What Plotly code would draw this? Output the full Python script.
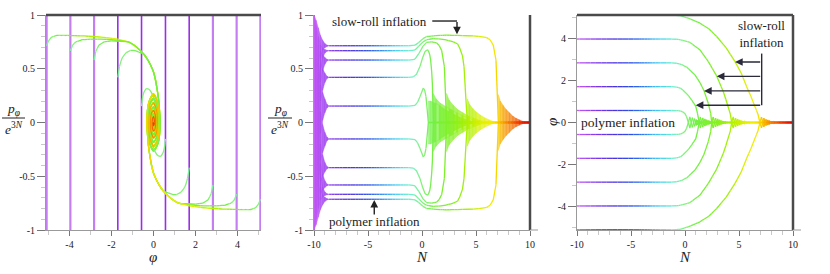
import math
import plotly.graph_objects as go

# ======================= DATA =======================
# five trajectory pairs; the mirrored partner of each is drawn by sign flip
PHI0 = [0.57, 1.70, 2.83, 3.96, 5.09]          # |initial field value|
P0 = [0.153, 0.42, 0.581, 0.668, 0.714]        # polymer plateau of p/e^{3N}
P_POLY_EDGE = [-1.0, 1.0]                       # range swept during polymer bounce
N_END = 10.0

# ---- panel 2 : polymer oscillation bands (family with p>0)
POLY_N = [-10.0, -9.8, -9.6, -9.4, -9.2, -9.0, -8.8, -8.6]
POLY_UP = [
    [1.0, 0.80, 0.55, 0.35, 0.28, 0.22, 0.17, 0.153],
    [1.0, 0.85, 0.72, 0.55, 0.50, 0.46, 0.43, 0.42],
    [1.0, 0.88, 0.78, 0.66, 0.63, 0.605, 0.588, 0.581],
    [1.0, 0.90, 0.80, 0.72, 0.69, 0.68, 0.672, 0.668],
    [1.0, 0.95, 0.88, 0.81, 0.765, 0.735, 0.72, 0.714],
]
POLY_LO = [
    [-1.0, -0.85, -0.60, -0.10, 0.02, 0.09, 0.135, 0.153],
    [-1.0, -0.80, -0.40, 0.20, 0.30, 0.37, 0.41, 0.42],
    [-1.0, -0.75, -0.20, 0.38, 0.48, 0.54, 0.572, 0.581],
    [-1.0, -0.70, 0.00, 0.50, 0.60, 0.645, 0.662, 0.668],
    [-1.0, -0.60, 0.20, 0.60, 0.675, 0.695, 0.708, 0.714],
]
# ---- panel 2 : plateau, slow roll, end of inflation (family with p>0)
P2_N = [
    [-8.6, -1.0, -0.65, -0.4, -0.19, 0.0, 0.12, 0.25, 0.37, 0.49, 0.59, 10.0],
    [-8.6, -1.0, -0.8, -0.5, -0.19, 0.05, 0.28, 0.45, 0.59, 0.72, 0.8, 0.9, 0.96, 1.05, 10.0],
    [-8.6, -1.0, -0.65, -0.3, 0.1, 0.43, 0.9, 1.36, 1.6, 1.82, 2.07, 2.22, 2.28, 10.0],
    [-8.6, -1.0, -0.65, -0.3, 0.1, 0.43, 1.05, 2.0, 2.9, 3.3, 3.5, 3.75, 3.89, 4.07, 4.2, 10.0],
    [-8.6, -1.0, -0.65, -0.3, 0.1, 0.43, 1.5, 2.3, 3.5, 4.75, 5.5, 5.99, 6.3, 6.6, 6.85, 6.97, 7.07, 10.0],
]
P2_P = [
    [0.153, 0.153, 0.16, 0.19, 0.24, 0.295, 0.32, 0.30, 0.24, 0.085, 0.0, 0.0],
    [0.42, 0.42, 0.425, 0.45, 0.52, 0.60, 0.66, 0.675, 0.67, 0.63, 0.58, 0.47, 0.36, 0.0, 0.0],
    [0.581, 0.581, 0.59, 0.64, 0.71, 0.745, 0.75, 0.74, 0.715, 0.67, 0.52, 0.21, 0.0, 0.0],
    [0.668, 0.668, 0.675, 0.71, 0.75, 0.77, 0.78, 0.775, 0.75, 0.73, 0.69, 0.62, 0.52, 0.21, 0.0, 0.0],
    [0.714, 0.714, 0.72, 0.745, 0.78, 0.80, 0.81, 0.812, 0.81, 0.805, 0.80, 0.79, 0.77, 0.72, 0.58, 0.21, 0.0, 0.0],
]
# ---- panel 2 : envelope of the damped oscillation after inflation
ENV2_N = [
    [0.59, 0.8, 1.2, 1.6, 2.0, 2.5, 3.0, 3.5, 4.0, 4.5, 5.0],
    [1.05, 1.3, 1.7, 2.2, 2.7, 3.2, 3.7, 4.2, 4.7, 5.2, 5.6],
    [2.28, 2.5, 2.9, 3.3, 3.8, 4.3, 4.8, 5.3, 5.8, 6.3],
    [4.2, 4.4, 4.7, 5.0, 5.4, 5.8, 6.2, 6.6, 7.0],
    [7.07, 7.25, 7.5, 7.8, 8.1, 8.4, 8.7, 9.0, 9.3, 9.6, 10.0],
]
ENV2_A = [
    [0.2, 0.2, 0.18, 0.16, 0.13, 0.1, 0.075, 0.05, 0.03, 0.015, 0.0],
    [0.27, 0.22, 0.18, 0.15, 0.12, 0.09, 0.065, 0.045, 0.028, 0.012, 0.0],
    [0.27, 0.21, 0.16, 0.12, 0.09, 0.06, 0.04, 0.022, 0.01, 0.0],
    [0.22, 0.17, 0.13, 0.1, 0.07, 0.045, 0.025, 0.01, 0.0],
    [0.26, 0.2, 0.16, 0.12, 0.09, 0.06, 0.04, 0.025, 0.012, 0.005, 0.0],
]

# ---- panel 3 : field vs N (family with phi>0)
P3_N = [
    [-10.0, -1.0, -0.6, -0.22, 0.0, 0.15, 0.25, 0.31],
    [-10.0, -1.0, -0.77, -0.4, 0.0, 0.35, 0.62, 0.99, 1.15, 1.28],
    [-10.0, -1.0, -0.77, -0.3, 0.15, 0.93, 1.4, 1.76, 2.16, 2.38, 2.47],
    [-10.0, -1.0, -0.62, 0.0, 0.46, 1.39, 2.16, 2.93, 3.55, 4.01, 4.2, 4.32],
    [-10.0, -1.0, -0.46, 0.3, 1.39, 2.2, 2.93, 3.8, 4.63, 5.2, 5.71, 6.1, 6.48, 6.75, 6.94],
]
P3_PHI = [
    [0.57, 0.57, 0.56, 0.51, 0.42, 0.27, 0.14, 0.0],
    [1.70, 1.70, 1.68, 1.62, 1.46, 1.25, 1.06, 0.78, 0.45, 0.0],
    [2.83, 2.83, 2.81, 2.75, 2.63, 2.25, 1.88, 1.51, 0.9, 0.43, 0.0],
    [3.96, 3.96, 3.94, 3.88, 3.80, 3.44, 2.89, 2.21, 1.46, 0.75, 0.4, 0.0],
    [5.09, 5.09, 5.07, 4.95, 4.71, 4.45, 4.08, 3.55, 2.89, 2.35, 1.70, 1.25, 0.75, 0.4, 0.0],
]
OSC3_N = [
    [0.45, 0.68, 0.88, 1.04, 1.18, 1.3, 1.41, 1.51, 1.61, 1.71, 1.82, 1.95, 2.1, 2.3, 10.0],
    [1.42, 1.64, 1.84, 2.0, 2.14, 2.26, 2.37, 2.47, 2.57, 2.67, 2.78, 2.9, 3.05, 3.25, 10.0],
    [2.61, 2.83, 3.03, 3.19, 3.33, 3.45, 3.56, 3.66, 3.76, 3.86, 3.97, 4.09, 4.24, 4.45, 10.0],
    [4.46, 4.68, 4.88, 5.04, 5.18, 5.3, 5.41, 5.51, 5.61, 5.71, 5.82, 5.94, 6.09, 6.3, 10.0],
    [7.08, 7.3, 7.5, 7.66, 7.8, 7.92, 8.03, 8.13, 8.23, 8.33, 8.44, 8.56, 8.71, 8.92, 10.0],
]
OSC3_PHI = [
    [-0.27, 0.23, -0.18, 0.14, -0.11, 0.085, -0.065, 0.05, -0.038, 0.028, -0.02, 0.013, -0.007, 0.0, 0.0],
    [-0.26, 0.22, -0.17, 0.13, -0.1, 0.08, -0.06, 0.045, -0.034, 0.025, -0.018, 0.012, -0.006, 0.0, 0.0],
    [-0.26, 0.21, -0.17, 0.13, -0.1, 0.075, -0.058, 0.044, -0.033, 0.024, -0.017, 0.011, -0.006, 0.0, 0.0],
    [-0.26, 0.21, -0.16, 0.125, -0.095, 0.072, -0.055, 0.042, -0.031, 0.023, -0.016, 0.01, -0.005, 0.0, 0.0],
    [-0.26, 0.21, -0.16, 0.125, -0.095, 0.072, -0.055, 0.042, -0.031, 0.023, -0.016, 0.01, -0.005, 0.0, 0.0],
]

# ---- panel 1 : phase space (family with phi<0, p>0)
P1_OWN_PHI = [
    [-0.57, -0.53, -0.46, -0.35, -0.22, -0.10, 0.03, 0.14, 0.22],
    [-1.70, -1.62, -1.49, -1.30, -1.10, -0.93, -0.70],
    [-2.83, -2.75, -2.60, -2.35, -2.00, -1.60],
    [-3.96, -3.85, -3.70, -3.40, -3.00, -2.50, -2.00, -1.50],
    [-5.09, -5.00, -4.85],
]
P1_OWN_P = [
    [0.153, 0.22, 0.28, 0.315, 0.31, 0.28, 0.22, 0.12, 0.0],
    [0.42, 0.52, 0.60, 0.65, 0.67, 0.67, 0.655],
    [0.581, 0.66, 0.72, 0.75, 0.76, 0.755],
    [0.668, 0.72, 0.75, 0.77, 0.775, 0.775, 0.77, 0.76],
    [0.714, 0.76, 0.795],
]
P1_OWN_N = [
    [-0.6, -0.25, 0.0, 0.12, 0.22, 0.3, 0.38, 0.46, 0.55],
    [-0.6, -0.25, 0.0, 0.2, 0.38, 0.5, 0.62],
    [-0.6, -0.1, 0.3, 0.7, 1.1, 1.35],
    [-0.6, -0.1, 0.4, 1.2, 1.9, 2.5, 3.0, 3.35],
    [-0.6, -0.2, 0.3],
]
ATTR_PHI = [-4.6, -4.1, -3.3, -2.5, -1.7, -1.2, -0.93, -0.65, -0.46, -0.28, -0.14, 0.0, 0.09, 0.18, 0.25, 0.29]
ATTR_P = [0.81, 0.81, 0.805, 0.795, 0.775, 0.75, 0.72, 0.675, 0.635, 0.585, 0.535, 0.47, 0.40, 0.30, 0.20, 0.10]
ATTR_N = [1.0, 2.9, 4.0, 5.0, 5.7, 6.05, 6.25, 6.45, 6.58, 6.68, 6.76, 6.83, 6.88, 6.93, 6.97, 7.0]
SPIRAL_PHI = [0.32, 0.22, 0.0, -0.205, -0.28, -0.187, 0.0, 0.166, 0.22, 0.148, 0.0, -0.134, -0.18, -0.12,
              0.0, 0.106, 0.14, 0.092, 0.0, -0.078, -0.10, -0.064, 0.0, 0.05, 0.065, 0.04, 0.0, -0.03,
              -0.04, -0.022, 0.0, 0.012, 0.0]
SPIRAL_P = [0.0, -0.19, -0.265, -0.18, 0.0, 0.166, 0.225, 0.152, 0.0, -0.138, -0.185, -0.124, 0.0, 0.11,
            0.145, 0.096, 0.0, -0.088, -0.115, -0.075, 0.0, 0.064, 0.082, 0.052, 0.0, -0.043, -0.055,
            -0.035, 0.0, 0.024, 0.03, 0.015, 0.0]
SPIRAL_N = [7.03, 7.09, 7.15, 7.21, 7.27, 7.33, 7.4, 7.46, 7.52, 7.58, 7.65, 7.71, 7.78, 7.84, 7.9, 7.96,
            8.02, 8.08, 8.15, 8.21, 8.28, 8.34, 8.4, 8.47, 8.55, 8.62, 8.7, 8.77, 8.85, 8.92, 9.0, 9.3, 10.0]
P1_JOIN_ATTR = [None, 8, 5, 5, 0]
P1_JOIN_SPIRAL = [1, 0, 0, 0, 0]
P1_N_SHIFT = [6.45, 5.8, 4.55, 2.65, 0.0]

# tick labels
P_TICKS = [-1, -0.5, 0, 0.5, 1]
P_TICKTEXT = ["-1", "-0.5", "0", "0.5", "1"]
PHI_TICKS = [-4, -2, 0, 2, 4]
PHI_TICKTEXT = ["-4", "-2", "0", "2", "4"]
N_TICKS = [-10, -5, 0, 5, 10]
N_TICKTEXT = ["-10", "-5", "0", "5", "10"]

# ======================= STYLE =======================
CSTOPS = [(-10.0, '#c65cf6'), (-9.2, '#a848f0'), (-8.0, '#7a36ea'), (-6.5, '#4a34e0'),
          (-5.0, '#2c50e8'), (-3.5, '#2f96f0'), (-2.2, '#46d2f0'), (-1.0, '#70f0c8'),
          (0.0, '#84f27a'), (1.0, '#74f045'), (3.0, '#86f020'), (4.5, '#b4f000'),
          (5.6, '#e0f000'), (6.6, '#f4ec00'), (7.1, '#f8d000'), (7.6, '#f8a800'),
          (8.3, '#f47400'), (9.1, '#f03a00'), (10.0, '#e00a00')]
SERIF = "Liberation Serif"
STOP_N = [s[0] for s in CSTOPS]
STOP_RGB = [tuple(int(s[1][i:i + 2], 16) for i in (1, 3, 5)) for s in CSTOPS]


def ncolor(n, alpha=None):
    n = max(STOP_N[0], min(STOP_N[-1], n))
    c = STOP_RGB[-1]
    for i in range(len(STOP_N) - 1):
        if n <= STOP_N[i + 1]:
            t = (n - STOP_N[i]) / (STOP_N[i + 1] - STOP_N[i])
            c = [round(a + (b - a) * t) for a, b in zip(STOP_RGB[i], STOP_RGB[i + 1])]
            break
    if alpha is None:
        return 'rgb(%d,%d,%d)' % tuple(c)
    return 'rgba(%d,%d,%d,%.2f)' % (c[0], c[1], c[2], alpha)


STEP = 0.25


def key_of(n):
    return round(n / STEP) * STEP


def gradient_runs(xs, ys, ns, store):
    """split a polyline into runs of constant colour (colour follows N)"""
    run, runkey = None, None
    for i in range(len(xs) - 1):
        dn = ns[i + 1] - ns[i]
        k = max(1, math.ceil(abs(dn) / STEP - 1e-9))
        for j in range(k):
            t0, t1 = j / k, (j + 1) / k
            x0 = xs[i] + (xs[i + 1] - xs[i]) * t0
            y0 = ys[i] + (ys[i + 1] - ys[i]) * t0
            x1 = xs[i] + (xs[i + 1] - xs[i]) * t1
            y1 = ys[i] + (ys[i + 1] - ys[i]) * t1
            key = key_of(ns[i] + dn * (t0 + t1) / 2)
            if key != runkey:
                if run:
                    store.setdefault(runkey, []).append(run)
                run, runkey = [(x0, y0)], key
            run.append((x1, y1))
    if run:
        store.setdefault(runkey, []).append(run)


def band_polys(ns, up, lo, store):
    for i in range(len(ns) - 1):
        key = key_of((ns[i] + ns[i + 1]) / 2)
        poly = [(ns[i], up[i]), (ns[i + 1], up[i + 1]), (ns[i + 1], lo[i + 1]), (ns[i], lo[i]), (ns[i], up[i])]
        store.setdefault(key, []).append(poly)


fig = go.Figure()


def emit(store, xa, ya, width, fill=False, reverse=False, shape='linear', alpha=None):
    for key in sorted(store, reverse=reverse):
        xs, ys = [], []
        for run in store[key]:
            xs += [p[0] for p in run] + [None]
            ys += [p[1] for p in run] + [None]
        c = ncolor(key)
        fig.add_trace(go.Scatter(
            x=xs, y=ys, mode='lines', xaxis=xa, yaxis=ya, hoverinfo='skip',
            line=dict(color=ncolor(key, alpha) if alpha else c, width=width, shape=shape),
            fill='toself' if fill else None, fillcolor=ncolor(key, alpha) if fill else None))


# ---------------- panel 1 ----------------
for i in range(5):
    for s in (-1, 1):
        fig.add_trace(go.Scatter(
            x=[s * PHI0[i], s * PHI0[i]], y=P_POLY_EDGE, mode='lines', xaxis='x', yaxis='y',
            hoverinfo='skip',
            line=dict(color='#9a2ee6' if i < 2 else '#c57ef2', width=1.6 if i < 2 else 2.2)))
storeA, storeB = {}, {}
for i in range(5):
    phi, p, n = list(P1_OWN_PHI[i]), list(P1_OWN_P[i]), list(P1_OWN_N[i])
    if P1_JOIN_ATTR[i] is not None:
        j = P1_JOIN_ATTR[i]
        phi += ATTR_PHI[j:]
        p += ATTR_P[j:]
        n += [v - P1_N_SHIFT[i] for v in ATTR_N[j:]]
    s0 = P1_JOIN_SPIRAL[i]
    phi += SPIRAL_PHI[s0:]
    p += SPIRAL_P[s0:]
    n += [v - P1_N_SHIFT[i] for v in SPIRAL_N[s0:]]
    gradient_runs(phi, p, n, storeA)
    gradient_runs([-v for v in phi], [-v for v in p], n, storeB)
emit(storeA, 'x', 'y', 1.3, reverse=True, shape='spline')
emit(storeB, 'x', 'y', 1.3, reverse=False, shape='spline')

# ---------------- panel 2 ----------------
polys = {}
for k in range(5):
    band_polys(POLY_N, POLY_UP[k], POLY_LO[k], polys)
    band_polys(POLY_N, [-v for v in POLY_LO[k]], [-v for v in POLY_UP[k]], polys)
emit(polys, 'x2', 'y2', 0.5, fill=True, alpha=0.8)
env = {}
for k in range(5):
    band_polys(ENV2_N[k], ENV2_A[k], [-v for v in ENV2_A[k]], env)
emit(env, 'x2', 'y2', 0.5, fill=True, alpha=0.7)
lines2 = {}
for k in range(5):
    gradient_runs(P2_N[k], P2_P[k], P2_N[k], lines2)
    gradient_runs(P2_N[k], [-v for v in P2_P[k]], P2_N[k], lines2)
emit(lines2, 'x2', 'y2', 1.3)

# ---------------- panel 3 ----------------
lines3 = {}
for k in range(5):
    nn = P3_N[k] + OSC3_N[k]
    ph = P3_PHI[k] + OSC3_PHI[k]
    gradient_runs(nn, ph, nn, lines3)
    gradient_runs(nn, [-v for v in ph], nn, lines3)
emit(lines3, 'x3', 'y3', 1.3)

# ======================= AXES =======================
W, H = 830, 274
ydom = [1 - 230 / H, 1 - 15 / H]
tickfont = dict(family=SERIF, size=10, color='#222')


def ax(domain, rng, tv, tt, mdt, tl):
    return dict(domain=domain, range=rng, tickmode='array', tickvals=tv, ticktext=tt, automargin=False,
                showgrid=False, zeroline=False, showline=True, linecolor='#9a9a9a', linewidth=1,
                ticks='outside', ticklen=tl, tickwidth=1, tickcolor='#777', tickfont=tickfont,
                minor=dict(ticks='outside', ticklen=4, tickcolor='#c8c8c8', tickmode='linear',
                           tick0=0, dtick=mdt), fixedrange=True)


fig.update_layout(
    width=W, height=H, margin=dict(l=0, r=0, t=0, b=0, autoexpand=False), showlegend=False,
    paper_bgcolor='white', plot_bgcolor='white',
    xaxis=dict(ax([46 / W, 261 / W], [-5.12, 5.12], PHI_TICKS, PHI_TICKTEXT, 1, 5), anchor='y'),
    yaxis=dict(ax(ydom, [-1, 1], P_TICKS, P_TICKTEXT, 0.1, 8), anchor='x'),
    xaxis2=dict(ax([314 / W, 530 / W], [-10, 10], N_TICKS, N_TICKTEXT, 1, 5), anchor='y2'),
    yaxis2=dict(ax(ydom, [-1, 1], P_TICKS, P_TICKTEXT, 0.1, 8), anchor='x2'),
    xaxis3=dict(ax([577 / W, 793 / W], [-10, 10], N_TICKS, N_TICKTEXT, 1, 5), anchor='y3'),
    yaxis3=dict(ax(ydom, [-5.1, 5.1], PHI_TICKS, PHI_TICKTEXT, 1, 8), anchor='x3'),
)

DARK = '#4a4a4a'
shapes = [
    dict(type='line', xref='x domain', yref='y domain', x0=0, x1=1, y0=1, y1=1, line=dict(color=DARK, width=2.5)),
    dict(type='line', xref='x2 domain', yref='y2 domain', x0=1, x1=1, y0=0, y1=1, line=dict(color=DARK, width=2.5)),
    dict(type='line', xref='x3 domain', yref='y3 domain', x0=1, x1=1, y0=0, y1=1, line=dict(color=DARK, width=2.5)),
    dict(type='line', xref='x3 domain', yref='y3 domain', x0=0, x1=1, y0=1, y1=1, line=dict(color=DARK, width=2.5)),
    dict(type='line', xref='x2 domain', yref='y2 domain', x0=1, x1=1 + 8 / 216, y0=0, y1=0, line=dict(color='#9a9a9a', width=1)),
    dict(type='line', xref='x3 domain', yref='y3 domain', x0=1, x1=1 + 8 / 216, y0=0, y1=0, line=dict(color='#9a9a9a', width=1)),
    # fraction bars of the y labels
    dict(type='line', xref='paper', yref='paper', x0=2 / W, x1=25 / W, y0=1 - 118 / H, y1=1 - 118 / H, line=dict(color='#222', width=1)),
    dict(type='line', xref='paper', yref='paper', x0=268 / W, x1=292 / W, y0=1 - 118 / H, y1=1 - 118 / H, line=dict(color='#222', width=1)),
    # annotation leader lines
    dict(type='line', xref='x2', yref='y2', x0=0.95, x1=3.24, y0=0.944, y1=0.944, line=dict(color='#222', width=1.4)),
    dict(type='line', xref='x3', yref='y3', x0=7.1, x1=7.1, y0=3.27, y1=0.82, line=dict(color='#2a2a3a', width=1.4)),
]
for s in shapes:
    s['layer'] = 'above'
fig.update_layout(shapes=shapes)

ann = []


def txt(x, y, t, size, xref='paper', yref='paper', **kw):
    ann.append(dict(x=x, y=y, xref=xref, yref=yref, text=t, showarrow=False,
                    xanchor='center', yanchor='middle',
                    font=dict(family=SERIF, size=size, color='#222'), **kw))


def arrow(x, y, axv, ayv, xr, yr, color='#222'):
    ann.append(dict(x=x, y=y, ax=axv, ay=ayv, xref=xr, yref=yr, axref=xr, ayref=yr, text='',
                    showarrow=True, arrowhead=2, arrowsize=1.1, arrowwidth=1.4, arrowcolor=color))


txt(153 / W, 1 - 257 / H, '<i>φ</i>', 15)
txt(422 / W, 1 - 257 / H, '<i>N</i>', 15)
txt(685 / W, 1 - 257 / H, '<i>N</i>', 15)
txt(552 / W, 1 - 122 / H, '<i>φ</i>', 15, textangle=-90)
for cx in (13.5, 280):
    txt(cx / W, 1 - 109 / H, '<i>p</i><sub><i>φ</i></sub>', 13.5)
    txt(cx / W, 1 - 128 / H, '<i>e</i><sup>3<i>N</i></sup>', 13.5)
txt(-3.89, 0.944, 'slow-roll inflation', 13, 'x2', 'y2')
txt(-4.44, -0.923, 'polymer inflation', 13, 'x2', 'y2')
txt(-5.3, 0.0, 'polymer inflation', 13.5, 'x3', 'y3')
txt(7.1, 4.19, 'slow-roll<br>inflation', 13, 'x3', 'y3')
arrow(3.24, 0.82, 3.24, 0.95, 'x2', 'y2')
arrow(-4.42, -0.72, -4.42, -0.87, 'x2', 'y2')
for tipN, ph in zip([4.63, 2.94, 1.76, 0.99], [2.87, 2.19, 1.50, 0.82]):
    arrow(tipN, ph, 7.1, ph, 'x3', 'y3', '#2a2a3a')
fig.update_layout(annotations=ann)

fig.write_html("out.html", config={'displayModeBar': False},
               post_script="document.body.style.margin='0';document.body.style.overflow='hidden';")
